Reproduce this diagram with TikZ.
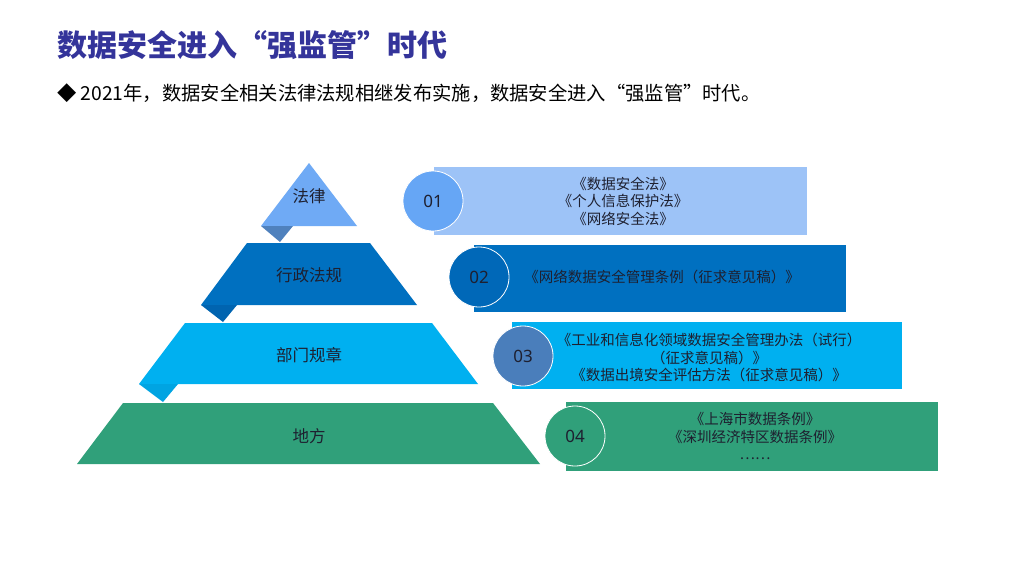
\documentclass[tikz,border=0pt]{standalone}
\usepackage{fontspec}
\setmainfont{Noto Sans CJK SC}
\newfontfamily\numfont{Noto Sans}
\definecolor{titleblue}{RGB}{52,52,154}
\definecolor{txtdark}{RGB}{30,32,48}
\definecolor{lone}{RGB}{111,170,245}
\definecolor{loneshade}{RGB}{79,129,189}
\definecolor{rone}{RGB}{157,195,247}
\definecolor{cone}{RGB}{102,166,245}
\definecolor{ltwo}{RGB}{0,112,192}
\definecolor{ltwoshade}{RGB}{0,100,176}
\definecolor{ctwo}{RGB}{0,104,184}
\definecolor{lthree}{RGB}{0,176,240}
\definecolor{lthreeshade}{RGB}{0,164,226}
\definecolor{cthree}{RGB}{74,126,187}
\definecolor{lfour}{RGB}{48,160,122}
\begin{document}
\begin{tikzpicture}[x=1pt,y=-1pt,
  numcircle/.style={circle,minimum size=60pt,inner sep=0pt,draw=white,line width=0.8pt,
    font=\numfont\fontsize{17}{20}\selectfont,text=txtdark},
  layerlabel/.style={font=\fontsize{16.5}{19}\selectfont,text=txtdark,inner sep=0pt},
  itemtext/.style={font=\fontsize{14.5}{17.5}\selectfont,text=txtdark,align=center,inner sep=0pt}]
\useasboundingbox (0,0) rectangle (1024,576);
\fill[white] (0,0) rectangle (1024,576);
% title
\node[anchor=west,inner sep=0pt,text=titleblue,font=\fontsize{30}{32}\selectfont\bfseries] (title) at (57,45.5) {数据安全进入“强监管”时代};
\node[anchor=west,inner sep=0pt,text=black,font=\fontsize{19.3}{22}\selectfont] (subtitle) at (57,93.5) {◆ 2021年，数据安全相关法律法规相继发布实施，数据安全进入“强监管”时代。};
% pyramid
\fill[lone] (309,163) -- (357,226) -- (261,226) -- cycle;
\fill[loneshade] (261,226) -- (293,226) -- (280,242) -- cycle;
\fill[ltwo] (247,243) -- (370,243) -- (417,305) -- (201,305) -- cycle;
\fill[ltwoshade] (201,305) -- (237,305) -- (223,322) -- cycle;
\fill[lthree] (185,323) -- (432,323) -- (478,384) -- (139,384) -- cycle;
\fill[lthreeshade] (139,384) -- (178,384) -- (163,402) -- cycle;
\fill[lfour] (123,403) -- (493,403) -- (540,464) -- (77,464) -- cycle;
\node[layerlabel] (law) at (309,196) {法律};
\node[layerlabel] (admin) at (309,275) {行政法规};
\node[layerlabel] (dept) at (309,355) {部门规章};
\node[layerlabel] (local) at (309,436) {地方};
% right bars
\fill[rone] (434,167) rectangle (807,235);
\fill[ltwo] (474,245) rectangle (846,312);
\fill[lthree] (512,322) rectangle (902,389);
\fill[lfour] (566,402) rectangle (938,471);
\node[numcircle,fill=cone] (n1) at (433,201) {01};
\node[numcircle,fill=ctwo] (n2) at (479,277) {02};
\node[numcircle,fill=cthree] (n3) at (523,356) {03};
\node[numcircle,fill=lfour] (n4) at (575,436) {04};
\node[itemtext] (t1) at (623,201) {《数据安全法》\\《个人信息保护法》\\《网络安全法》};
\node[itemtext] (t2) at (662,277) {《网络数据安全管理条例（征求意见稿）》};
\node[itemtext] (t3) at (709,357.5) {《工业和信息化领域数据安全管理办法（试行）\\（征求意见稿）》\\《数据出境安全评估方法（征求意见稿）》};
\node[itemtext,anchor=north] (t4) at (755,412) {《上海市数据条例》\\《深圳经济特区数据条例》\\……};
\end{tikzpicture}
\end{document}
